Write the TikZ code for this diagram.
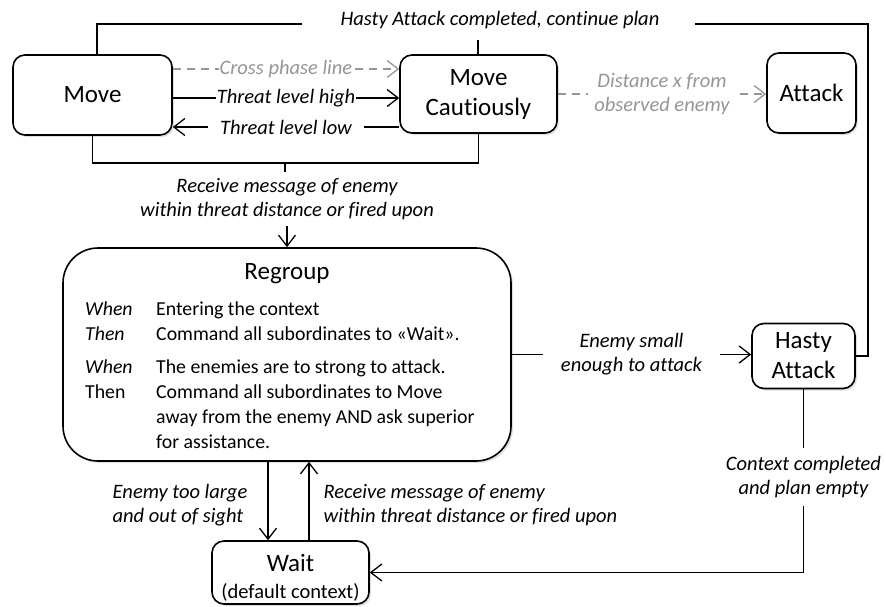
\documentclass[tikz,border=0pt]{standalone}
\usepackage{fontspec}
\setmainfont{Carlito}[Ligatures={NoCommon}]
\usetikzlibrary{arrows.meta,shadows,calc}
\definecolor{lgray}{RGB}{150,150,150}
\begin{document}
\begin{tikzpicture}[x=1pt,y=-1pt,
  box/.style={draw, line width=1.6pt, rounded corners=12pt, fill=white, inner sep=0pt, align=center,
    font=\fontsize{25}{30}\selectfont,
    drop shadow={shadow xshift=2pt, shadow yshift=-2pt, opacity=0.25}},
  conn/.style={line width=1.3pt, -{Straight Barb[length=11pt,width=17pt]}},
  plainline/.style={line width=1.3pt},
  dconn/.style={conn, lgray, dash pattern=on 8pt off 6pt},
  lbl/.style={font=\fontsize{20.5}{24}\selectfont\itshape, align=center, fill=white, inner sep=2pt, text=black},
  glbl/.style={lbl, text=lgray},
]
\fill[white] (0,0) rectangle (886,606);
\useasboundingbox (0,0) rectangle (886,606);

% states
\node[box, minimum width=159pt, minimum height=80pt] (move) at (92.5,95) {Move};
\node[box, minimum width=157pt, minimum height=78pt] (mc) at (478.5,94) {Move\\Cautiously};
\node[box, minimum width=89pt, minimum height=80pt] (attack) at (811.5,93) {Attack};
\node[box, rounded corners=35pt, minimum width=448pt, minimum height=213pt] (regroup) at (287,354.5) {};
\node[box, minimum width=103pt, minimum height=65pt] (hasty) at (803.5,356) {Hasty\\Attack};
\node[box, minimum width=157pt, minimum height=63pt] (wait) at (290.5,572.5) {};
\node[align=center, inner sep=0pt, font=\fontsize{25}{30}\selectfont] (waittext) at (290.5,578)
  {Wait\\[-3pt]{\fontsize{20.5}{22}\selectfont(default context)}};

% regroup content
\node[font=\fontsize{25}{28}\selectfont, inner sep=0pt] (regtitle) at (287,274) {Regroup};
\node[anchor=base west, inner sep=0pt, font=\fontsize{19.8}{25}\selectfont] (regbody) at (85,315)
  {\begin{tabular}[t]{@{}p{71pt}@{}l@{}}
   \textit{When} & Entering the context\\
   \textit{Then} & Command all subordinates to «Wait».\\[8pt]
   \textit{When} & The enemies are to strong to attack.\\
   Then & Command all subordinates to Move\\
        & away from the enemy AND ask superior\\
        & for assistance.
   \end{tabular}};

% top line: Hasty Attack completed, continue plan
\coordinate (tr) at (868,24);
\coordinate (tgr) at (695,24);
\coordinate (tgl) at (302,24);
\coordinate (tl) at (97,24);
\coordinate (stub) at (478,40);
\draw[plainline] (hasty.east) -| (tr) -- (tgr);
\node[lbl, fill=none] (lbltop) at (500,20) {Hasty Attack completed, continue plan};
\draw[plainline] (tgl) -- (tl) -- (tl |- move.north);
\draw[plainline] (stub) -- (stub |- mc.north);

% Move <-> Move Cautiously
\draw[dconn] ([yshift=26pt]move.east) -- ([yshift=26pt]move.east -| mc.west)
  node[midway, glbl, inner sep=1pt] (lblcross) {Cross phase line};
\draw[conn] ([yshift=-3pt]move.east) -- ([yshift=-3pt]move.east -| mc.west)
  node[midway, lbl, inner sep=1pt] (lblhigh) {Threat level high};
\draw[conn] ([yshift=-33pt]mc.west) -- ([yshift=-33pt]mc.west -| move.east)
  node[midway, lbl, inner xsep=12pt] (lbllow) {Threat level low};

% Move Cautiously -> Attack
\draw[dconn] (mc.east) -- (mc.east -| attack.west)
  node[midway, glbl, inner xsep=6pt] (lbldist) {Distance x from\\observed enemy};

% bottom fork -> Regroup
\coordinate (fb) at (285,163);
\draw[plainline] (move.south) |- (fb) -| (mc.south);
\draw[plainline] (fb) -- ++(0,9);
\node[lbl, fill=none] (lblrecv) at (287,199) {Receive message of enemy\\within threat distance or fired upon};
\coordinate (ra) at (287,226);
\draw[conn] (ra) -- (ra |- regroup.north);

% Regroup -> Hasty Attack
\draw[conn] (regroup.east) -- (regroup.east -| hasty.west)
  node[midway, lbl, inner xsep=18pt] (lblsmall) {Enemy small\\enough to attack};

% Hasty Attack -> Wait
\draw[conn] (hasty.south) |- (wait.east)
  node[pos=0.24, lbl, inner ysep=8pt] (lblctx) {Context completed\\and plan empty};

% Regroup <-> Wait
\coordinate (dA) at ([xshift=-19pt]regroup.south);
\coordinate (uA) at ([xshift=22pt]regroup.south);
\draw[conn] (dA) -- (dA |- wait.north)
  node[midway, lbl, fill=none, anchor=east, align=left, xshift=-18pt, yshift=-4pt] (lblbig) {Enemy too large\\and out of sight};
\draw[conn] (uA |- wait.north) -- (uA)
  node[midway, lbl, fill=none, anchor=west, align=left, xshift=12pt, yshift=-4pt] (lblrecv2) {Receive message of enemy\\within threat distance or fired upon};
\end{tikzpicture}
\end{document}
